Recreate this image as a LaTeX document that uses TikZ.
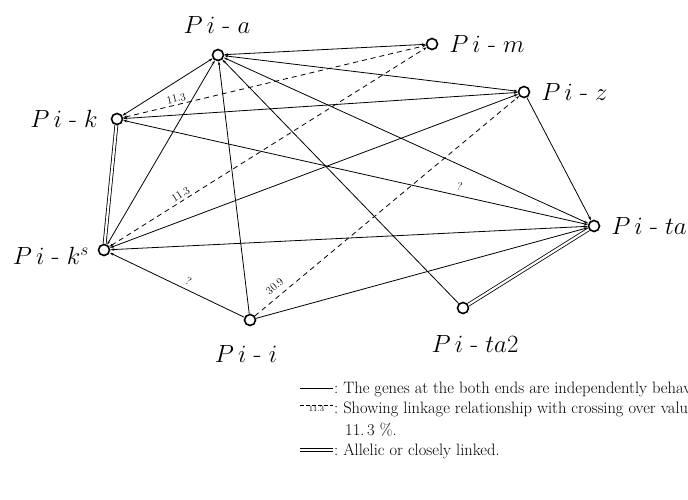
\documentclass[tikz,border=0pt]{standalone}
\usetikzlibrary{positioning,arrows.meta}

\tikzset{
  gene/.style={circle,draw,line width=1.6pt,inner sep=0pt,minimum size=11pt},
  gname/.style={inner sep=0.75pt,font=\fontsize{26}{28}\selectfont},
  link/.style={line width=0.8pt},
  tip/.style={-{Stealth[length=4pt,width=2.5pt]}},
  tips/.style={{Stealth[length=4pt,width=2.5pt]}-{Stealth[length=4pt,width=2.5pt]}},
  linked/.style={link,dash pattern=on 5pt off 4pt},
  allelic/.style={double,double distance=2.2pt,line width=0.8pt},
  rate/.style={font=\fontsize{11}{12}\selectfont,inner sep=2pt},
  legend/.style={anchor=west,inner sep=0pt,font=\fontsize{16.5}{20}\selectfont}
}
\newcommand{\gn}[1]{$P\,i$\;-\;$#1$}

\begin{document}
\begin{tikzpicture}[x=1pt,y=1pt,yscale=-1]
\useasboundingbox (0,0) rectangle (688,499);

% genes
\node [gene] (a)   at (218,55)  {};
\node [gene] (m)   at (432,44)  {};
\node [gene] (k)   at (117,119) {};
\node [gene] (z)   at (524,92)  {};
\node [gene] (ks)  at (104,250) {};
\node [gene] (ta)  at (594,226) {};
\node [gene] (i)   at (250,320) {};
\node [gene] (ta2) at (463,308) {};

\node [gname, above=14pt of a, xshift=-1pt] (la) {\gn{a}};
\node [gname, right=10pt of m] (lm)   {\gn{m}};
\node [gname, left=12pt of k]  (lk)   {\gn{k}};
\node [gname, right=10pt of z] (lz)   {\gn{z}};
\node [gname, left=8pt of ks, yshift=-6pt] (lks) {\gn{k^s}};
\node [gname, right=10pt of ta] (lta) {\gn{ta}};
\node [gname, below=18pt of i, xshift=-4pt] (li) {\gn{i}};
\node [gname, below=20pt of ta2, xshift=12pt] (lta2) {\gn{ta2}};

% independent
\draw [link,tips] (a) -- (m);
\draw [link,tips] (a) -- (z);
\draw [link,tips] (a) -- (k);
\draw [link,tips] (a) -- (ks);
\draw [link,tips] (a) -- (ta);
\draw [link,tip] (i) -- (a);
\draw [link,tip] (ta2) -- (a);
\draw [link,tips] (k) -- (z);
\draw [link,tips] (k) -- node [rate,above,rotate=-13,pos=0.72,inner sep=5pt] {?} (ta);
\draw [link,tips] (ks) -- (z);
\draw [link,tips] (ks) -- (ta);
\draw [link,tip] (i) -- node [rate,above,rotate=-26,pos=0.44,inner sep=4pt] {?} (ks);
\draw [link,tip] (i) -- (ta);
\draw [link,tip] (z) -- (ta);

% linkage
\draw [linked,tips] (k) -- node [rate,above,rotate=13,pos=0.18] {11.3} (m);
\draw [linked,tips] (ks) -- node [rate,above,rotate=32,pos=0.235] {11.3} (m);
\draw [linked,tip] (i) -- node [rate,above,rotate=40,pos=0.1,inner sep=6pt] {30.9} (z);

% allelic
\draw [allelic] (k) -- (ks);
\draw [allelic] (ta2) -- (ta);

% legend
\coordinate (s1) at (300,388);
\coordinate (e1) at (333,388);
\draw [link] (s1) -- (e1);
\node [legend] (t1) at (334,389) {:\ The genes at the both ends are independently behaving.};
\coordinate (s2) at (300,405);
\coordinate (e2) at (333,405);
\draw [linked,dash pattern=on 4pt off 2pt] (s2) -- node [font=\fontsize{8}{9}\selectfont,inner sep=0.5pt,below] (v2) {11.3} (e2);
\node [legend] (t2) at (334,409) {:\ Showing linkage relationship with crossing over value of};
\node [legend] (t3) at (345,430) {11.\,3 \%.};
\coordinate (s4) at (300,450);
\coordinate (e4) at (333,450);
\draw [allelic,double distance=2pt,line width=0.6pt] (s4) -- (e4);
\node [legend] (t4) at (334,451) {:\ Allelic or closely linked.};

\end{tikzpicture}
\end{document}
